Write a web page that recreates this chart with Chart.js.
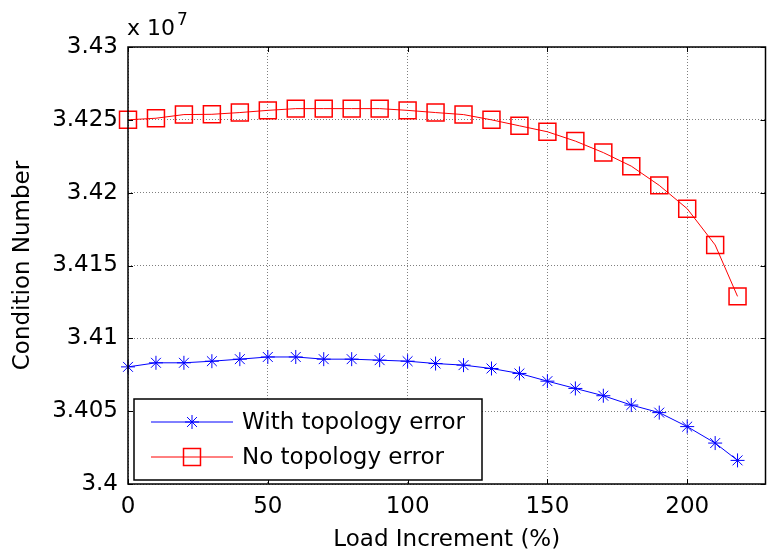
<!DOCTYPE html>
<html>
<head>
<meta charset="utf-8">
<script src="https://cdn.jsdelivr.net/npm/chart.js@4/dist/chart.umd.min.js"></script>
<style>
  html, body { margin: 0; padding: 0; background: #fff; }
  canvas { display: block; }
</style>
</head>
<body>
<canvas id="chart" width="779" height="558"></canvas>
<script>
// Load increment (%) and condition number (x 10^7)
const loadPct = [0, 10, 20, 30, 40, 50, 60, 70, 80, 90, 100, 110, 120, 130, 140, 150, 160, 170, 180, 190, 200, 210, 218];
const withTopologyError = [3.40804, 3.40832, 3.40832, 3.40843, 3.40857, 3.40872, 3.40872, 3.40857, 3.40857, 3.40850,
    3.40843, 3.40827, 3.40816, 3.40793, 3.40759, 3.40706, 3.40656, 3.40606, 3.40542, 3.40490, 3.40394, 3.40281, 3.40162];
const noTopologyError = [3.42500, 3.42511, 3.42536, 3.42538, 3.42550, 3.42565, 3.42577, 3.42577, 3.42577, 3.42577,
    3.42565, 3.42550, 3.42536, 3.42500, 3.42459, 3.42418, 3.42354, 3.42275, 3.42182, 3.42050, 3.41890, 3.41641, 3.41288];
const xTicks = [0, 50, 100, 150, 200];
const yTicks = [3.4, 3.405, 3.41, 3.415, 3.42, 3.425, 3.43];
const seriesLabels = ['With topology error', 'No topology error'];

const FONT = '"DejaVu Sans", sans-serif';
const FS = 23;

// Box around the axes with MATLAB-style inward ticks, plus exponent and legend
const frame = {
    id: 'frame',
    afterDatasetsDraw(chart) {
        const { ctx, chartArea: a, scales } = chart;
        ctx.save();
        ctx.strokeStyle = '#000';
        ctx.lineWidth = 1;
        ctx.beginPath();
        xTicks.forEach(v => {
            const x = Math.round(scales.x.getPixelForValue(v)) + 0.5;
            ctx.moveTo(x, a.bottom); ctx.lineTo(x, a.bottom - 5);
            ctx.moveTo(x, a.top); ctx.lineTo(x, a.top + 5);
        });
        yTicks.forEach(v => {
            const y = Math.round(scales.y.getPixelForValue(v)) + 0.5;
            ctx.moveTo(a.left, y); ctx.lineTo(a.left + 5, y);
            ctx.moveTo(a.right, y); ctx.lineTo(a.right - 5, y);
        });
        ctx.stroke();
        ctx.lineWidth = 1.5;
        ctx.strokeRect(a.left, a.top, a.right - a.left, a.bottom - a.top);
        ctx.restore();
    },
    afterDraw(chart) {
        const { ctx, chartArea: a } = chart;
        ctx.save();
        // exponent label
        ctx.fillStyle = '#000';
        ctx.textBaseline = 'alphabetic';
        ctx.font = '22px ' + FONT;
        ctx.fillText('x 10', a.left - 1, 35);
        const w = ctx.measureText('x 10').width;
        ctx.font = '17px ' + FONT;
        ctx.fillText('7', a.left + w + 1, 25);

        // legend box
        const lx = 134, ly = 399, lw = 348, lh = 81;
        ctx.fillStyle = '#fff';
        ctx.fillRect(lx, ly, lw, lh);
        ctx.strokeStyle = '#000';
        ctx.lineWidth = 1.5;
        ctx.strokeRect(lx, ly, lw, lh);
        const rows = [422, 457];
        chart.data.datasets.forEach((ds, i) => {
            const y = rows[i];
            ctx.strokeStyle = ds.borderColor;
            ctx.lineWidth = 1;
            ctx.beginPath();
            ctx.moveTo(151, y); ctx.lineTo(233, y);
            ctx.stroke();
            ctx.strokeStyle = ds.pointBorderColor;
            ctx.fillStyle = 'rgba(0,0,0,0)';
            ctx.lineWidth = ds.pointBorderWidth;
            Chart.helpers.drawPoint(ctx, {
                pointStyle: ds.pointStyle,
                radius: ds.pointRadius,
                borderWidth: ds.pointBorderWidth,
                rotation: 0
            }, 192, y);
            ctx.fillStyle = '#000';
            ctx.font = FS + 'px ' + FONT;
            ctx.textBaseline = 'middle';
            ctx.fillText(ds.label, 242, y + 1);
        });
        ctx.restore();
    }
};

new Chart(document.getElementById('chart'), {
    type: 'line',
    data: {
        datasets: [
            {
                label: seriesLabels[0],
                data: loadPct.map((x, i) => ({ x, y: withTopologyError[i] })),
                borderColor: '#0000ff',
                backgroundColor: 'rgba(0,0,0,0)',
                borderWidth: 1,
                pointStyle: 'star',
                pointRadius: 7,
                pointBorderWidth: 1,
                pointBorderColor: '#0000ff',
                tension: 0,
                clip: false
            },
            {
                label: seriesLabels[1],
                data: loadPct.map((x, i) => ({ x, y: noTopologyError[i] })),
                borderColor: '#ff0000',
                backgroundColor: 'rgba(0,0,0,0)',
                borderWidth: 1,
                pointStyle: 'rect',
                pointRadius: 12,
                pointBorderWidth: 1.5,
                pointBorderColor: '#ff0000',
                pointBackgroundColor: 'rgba(0,0,0,0)',
                tension: 0,
                clip: false
            }
        ]
    },
    options: {
        responsive: false,
        animation: false,
        devicePixelRatio: 1,
        layout: { padding: { top: 47, right: 2, left: 0, bottom: 0 } },
        plugins: {
            legend: { display: false },
            tooltip: { enabled: false }
        },
        scales: {
            x: {
                type: 'linear',
                min: 0,
                max: 228,
                afterBuildTicks: s => { s.ticks = xTicks.map(v => ({ value: v })); },
                afterFit: s => { s.height = 74; },
                grid: { color: 'rgba(0,0,0,0.5)', drawTicks: false },
                border: { display: false, dash: [1, 2] },
                ticks: { color: '#000', font: { family: FONT, size: FS }, padding: 9, maxRotation: 0 },
                title: {
                    display: true,
                    text: 'Load Increment (%)',
                    color: '#000',
                    font: { family: FONT, size: FS },
                    padding: 4
                }
            },
            y: {
                min: 3.4,
                max: 3.43,
                afterBuildTicks: s => { s.ticks = yTicks.map(v => ({ value: v })); },
                afterFit: s => { s.width = 128; },
                grid: { color: 'rgba(0,0,0,0.5)', drawTicks: false },
                border: { display: false, dash: [1, 2] },
                ticks: {
                    color: '#000',
                    font: { family: FONT, size: FS },
                    padding: 10,
                    callback: v => String(+v.toFixed(3))
                },
                title: {
                    display: true,
                    text: 'Condition Number',
                    color: '#000',
                    font: { family: FONT, size: FS },
                    padding: 9
                }
            }
        }
    },
    plugins: [frame]
});
</script>
</body>
</html>
